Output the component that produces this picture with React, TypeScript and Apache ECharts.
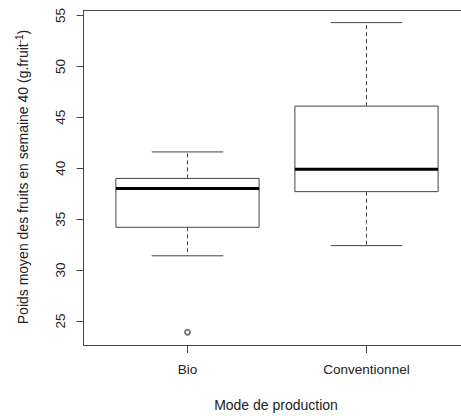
import React, { useEffect, useRef } from "react";
import * as echarts from "echarts";

const categories = ["Bio", "Conventionnel"];
const lowWhisker = [31.4, 32.4];
const q1 = [34.2, 37.7];
const median = [38.0, 39.9];
const q3 = [39.0, 46.1];
const highWhisker = [41.6, 54.3];
const outliers: [number, number][] = [[1, 23.9]];
const yTicks = [25, 30, 35, 40, 45, 50, 55];

const FONT = "Liberation Sans, Arial, sans-serif";
const LINE = "#444";
const TEXT = "#222";

export default function App() {
  const ref = useRef<HTMLDivElement>(null);
  useEffect(() => {
    if (!ref.current) return;
    const chart = echarts.init(ref.current, null, { renderer: "svg" });
    const boxData = categories.map((_, i) => [
      i + 1,
      lowWhisker[i],
      q1[i],
      median[i],
      q3[i],
      highWhisker[i],
    ]);
    const xRange = { min: 0.419, max: 2.528 };
    const option: any = {
      animation: false,
      grid: {
        left: 83.5,
        right: 0,
        top: 10.5,
        bottom: 71,
        show: false,
      },
      xAxis: [
        {
          type: "value",
          ...xRange,
          axisLine: { show: true, onZero: false, lineStyle: { color: LINE } },
          axisTick: { show: true, customValues: [1, 2], length: 8, lineStyle: { color: LINE } },
          axisLabel: {
            customValues: [1, 2],
            formatter: (v: number) => categories[Math.round(v) - 1] ?? "",
            fontSize: 13.5,
            color: TEXT,
            margin: 17,
            fontFamily: FONT,
          },
          splitLine: { show: false },
        },
        {
          type: "value",
          position: "top",
          ...xRange,
          axisLine: { show: true, onZero: false, lineStyle: { color: LINE } },
          axisTick: { show: false },
          axisLabel: { show: false },
          splitLine: { show: false },
        },
      ],
      yAxis: {
        type: "value",
        min: 22.64,
        max: 55.49,
        axisLine: { show: true, onZero: false, lineStyle: { color: LINE } },
        axisTick: { show: true, customValues: yTicks, length: 7, lineStyle: { color: LINE } },
        axisLabel: {
          customValues: yTicks,
          rotate: 90,
          fontSize: 13.5,
          color: TEXT,
          margin: 16,
          fontFamily: FONT,
        },
        splitLine: { show: false },
      },
      graphic: [
        {
          type: "text",
          x: 23,
          y: 177,
          rotation: Math.PI / 2,
          style: {
            text: "Poids moyen des fruits en semaine 40 (g.fruit{sup|-1})",
            rich: { sup: { fontSize: 10, fontFamily: FONT, fill: TEXT, padding: [0, 0, 8, 0] } },
            fontSize: 14,
            fontFamily: FONT,
            fill: TEXT,
            align: "center",
            verticalAlign: "middle",
          },
        },
        {
          type: "text",
          x: 276,
          y: 405,
          style: {
            text: "Mode de production",
            fontSize: 14,
            fontFamily: FONT,
            fill: TEXT,
            align: "center",
            verticalAlign: "middle",
          },
        },
      ],
      series: [
        {
          type: "custom",
          data: boxData,
          encode: { x: 0, y: [1, 2, 3, 4, 5] },
          clip: false,
          renderItem: (_params: any, api: any) => {
            const x = api.value(0);
            const lo = api.value(1);
            const a = api.value(2);
            const m = api.value(3);
            const b = api.value(4);
            const hi = api.value(5);
            const p = (xv: number, yv: number) => api.coord([xv, yv]);
            const tl = p(x - 0.4, b);
            const br = p(x + 0.4, a);
            const dash = { stroke: LINE, lineWidth: 1, lineDash: [4, 3] };
            const solid = { stroke: LINE, lineWidth: 1 };
            const line = (p1: number[], p2: number[], style: any) => ({
              type: "line",
              shape: { x1: p1[0], y1: p1[1], x2: p2[0], y2: p2[1] },
              style,
            });
            return {
              type: "group",
              children: [
                line(p(x, b), p(x, hi), dash),
                line(p(x, a), p(x, lo), dash),
                line(p(x - 0.2, hi), p(x + 0.2, hi), solid),
                line(p(x - 0.2, lo), p(x + 0.2, lo), solid),
                {
                  type: "rect",
                  shape: { x: tl[0], y: tl[1], width: br[0] - tl[0], height: br[1] - tl[1] },
                  style: { fill: "#fff", stroke: LINE, lineWidth: 1 },
                },
                line(p(x - 0.4, m), p(x + 0.4, m), { stroke: "#000", lineWidth: 3 }),
              ],
            };
          },
        },
        {
          type: "scatter",
          data: outliers,
          symbol: "emptyCircle",
          symbolSize: 5,
          itemStyle: { color: "#555", borderWidth: 1 },
        },
      ],
    };
    chart.setOption(option);
    return () => chart.dispose();
  }, []);
  return (
    <div
      ref={ref}
      style={{ position: "fixed", left: 0, top: 0, width: 461, height: 416, background: "#fff" }}
    />
  );
}
